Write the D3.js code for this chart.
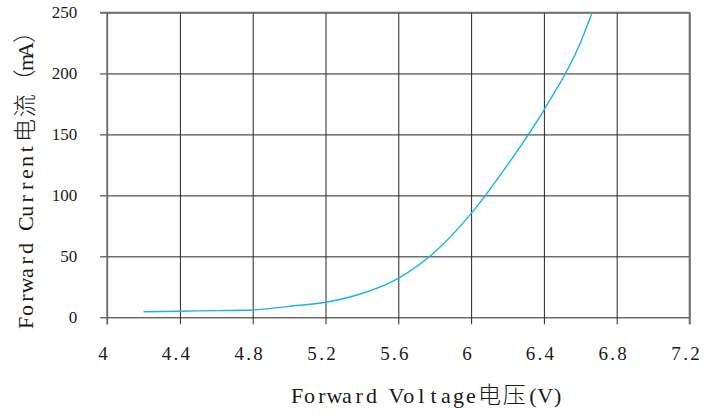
<!DOCTYPE html>
<html>
<head>
<meta charset="utf-8">
<script src="https://cdn.jsdelivr.net/npm/d3@7"></script>
<style>
  html, body { margin: 0; padding: 0; background: #fff; }
  svg { display: block; }
  .serif { font-family: "Liberation Serif", "DejaVu Serif", serif; }
  .cjk { font-family: "Noto Sans CJK SC", sans-serif; font-weight: 300; }
</style>
</head>
<body>
<svg id="chart" width="709" height="417"></svg>
<script>
// ---- data ----
const voltage = [4.2, 4.4, 4.6, 4.8, 5.0, 5.2, 5.4, 5.6, 5.8, 6.0, 6.2, 6.4, 6.6, 6.665];
const current = [4.5, 5.0, 5.5, 6.0, 9.0, 12.3, 19.5, 32, 53.5, 85, 125, 170, 225, 250];
const xTicks = [4, 4.4, 4.8, 5.2, 5.6, 6, 6.4, 6.8, 7.2];
const xTickLabels = ["4", "4.4", "4.8", "5.2", "5.6", "6", "6.4", "6.8", "7.2"];
const yTicks = [0, 50, 100, 150, 200, 250];
const yTickLabels = ["0", "50", "100", "150", "200", "250"];
const xTitle = "Forward Voltage电压(V)";
const yTitle = "Forward Current电流（mA）";

// ---- layout ----
const pLeft = 107.1, pRight = 689.5, pTop = 12.5, pBottom = 317.3;
const tickLen = 7;
const svg = d3.select("#chart");

const x = d3.scaleLinear().domain([4, 7.2]).range([pLeft, pRight]);
const y = d3.scaleLinear().domain([0, 250]).range([pBottom, pTop]);

const gridColor = "#262626";

function isWide(ch) {
  return ch.codePointAt(0) >= 0x2E80;
}

// monospaced-style layout: each character centred in its own cell
function monoText(textSel, str, adv, latinSize, cjkSize, startX) {
  let pos = startX;
  textSel.attr("text-anchor", "middle");
  for (const ch of str) {
    const wide = isWide(ch);
    const w = wide ? adv * 2 : adv;
    if (ch !== " ") {
      textSel.append("tspan")
        .attr("class", wide ? "cjk" : "serif")
        .attr("x", pos + w / 2)
        .style("font-size", (wide ? cjkSize : latinSize) + "px")
        .text(ch);
    }
    pos += w;
  }
}

// ---- y axis with horizontal grid ----
const yAxis = d3.axisLeft(y)
  .tickValues(yTicks)
  .tickFormat((d, i) => yTickLabels[i])
  .tickSizeInner(-(pRight - pLeft + tickLen))
  .tickSizeOuter(0)
  .tickPadding(22.8);

const gy = svg.append("g")
  .attr("transform", `translate(${pLeft - tickLen},0)`)
  .call(yAxis);
gy.attr("font-family", null).attr("font-size", null);
gy.select(".domain").remove();
gy.selectAll(".tick line").attr("stroke", gridColor).attr("stroke-width", 1);
gy.selectAll(".tick text")
  .attr("class", "serif")
  .style("font-size", "17px")
  .attr("fill", "#1a1a1a")
  .attr("dy", "0.3em");

// ---- x axis with vertical grid ----
const xAxis = d3.axisBottom(x)
  .tickValues(xTicks)
  .tickFormat("")
  .tickSizeInner(-(pBottom + tickLen - pTop))
  .tickSizeOuter(0);

const gx = svg.append("g")
  .attr("transform", `translate(0,${pBottom + tickLen})`)
  .call(xAxis);
gx.select(".domain").remove();
gx.selectAll(".tick line").attr("stroke", gridColor).attr("stroke-width", 1);
gx.selectAll(".tick text").remove();

// x tick labels (monospace-like cells)
const xAdv = 9.4;
xTicks.forEach((v, i) => {
  const lab = xTickLabels[i];
  const n = [...lab].length;
  const cx = x(v) - 4;
  const t = svg.append("text")
    .attr("y", 360)
    .attr("fill", "#1a1a1a");
  monoText(t, lab, xAdv, 19, 19, cx - n * xAdv / 2);
});

// frame lines slightly greyer
svg.append("line")
  .attr("x1", pLeft).attr("x2", pLeft).attr("y1", pTop).attr("y2", pBottom + tickLen)
  .attr("stroke", "#6e6e6e").attr("stroke-width", 1.6);
svg.append("line")
  .attr("x1", pRight).attr("x2", pRight).attr("y1", pTop).attr("y2", pBottom + tickLen)
  .attr("stroke", "#6e6e6e").attr("stroke-width", 1.6);
svg.append("line")
  .attr("x1", pLeft - tickLen).attr("x2", pRight).attr("y1", y(250)).attr("y2", y(250))
  .attr("stroke", "#6e6e6e").attr("stroke-width", 1.6);

// ---- curve ----
const pts = voltage.map((v, i) => [v, current[i]]);
const line = d3.line()
  .x(d => x(d[0]))
  .y(d => y(d[1]))
  .curve(d3.curveMonotoneX);

svg.append("path")
  .datum(pts)
  .attr("d", line)
  .attr("fill", "none")
  .attr("stroke", "#17b3ee")
  .attr("stroke-width", 1.4);

// ---- axis titles ----
const titleAdv = 12.4;
const xt = svg.append("text").attr("y", 403).attr("fill", "#1a1a1a");
monoText(xt, xTitle, titleAdv, 22, 23, 291);

const ytG = svg.append("g").attr("transform", "translate(33,329) rotate(-90)");
const yt = ytG.append("text").attr("y", 0).attr("fill", "#1a1a1a");
monoText(yt, yTitle, titleAdv, 22, 23, 0);
</script>
</body>
</html>
